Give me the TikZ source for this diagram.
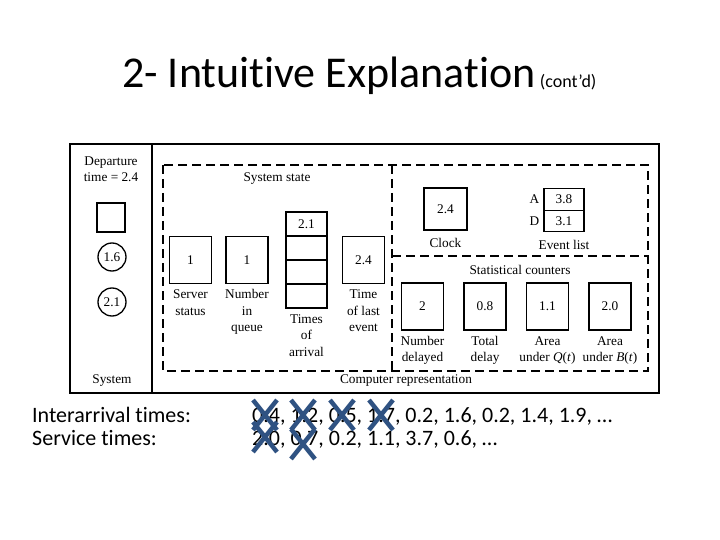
\documentclass[tikz,border=0pt]{standalone}
\usepackage{fontspec}
\setmainfont{Carlito}[Ligatures={TeX,CommonOff}]
\newfontfamily\figfont{Liberation Serif}
\usetikzlibrary{positioning}

\definecolor{crossblue}{RGB}{47,82,130}

\tikzset{
  fig/.style={font=\figfont\fontsize{13.3}{16.5}\selectfont},
  cell/.style={draw, line width=1.3pt, minimum width=42pt, minimum height=47pt, inner sep=0pt, fig},
  lab/.style={fig, align=center, inner sep=0pt},
  region/.style={dash pattern=on 9pt off 5pt, line width=1.1pt},
  crossout/.style={crossblue, line width=4.5pt},
  slide/.style={anchor=base west, inner sep=0pt, font=\fontsize{22}{24}\selectfont}
}

\begin{document}
\begin{tikzpicture}[x=1pt,y=-1pt]
  \useasboundingbox (0,0) rectangle (720,540);

  % title
  \node[anchor=base west, inner sep=0pt, font=\fontsize{44}{50}\selectfont] (title) at (122,88) {2- Intuitive Explanation};
  \node[anchor=base west, inner sep=0pt, font=\fontsize{18}{20}\selectfont] (contd) at ([xshift=4pt]title.base east) {(cont'd)};

  % frame
  \draw[line width=1.8pt] (70,144) rectangle (659,393);
  \draw[line width=1.3pt] (152,144) -- (152,393);

  % system
  \node[lab] (dep) at (111,169) {Departure\\time = 2.4};
  \node[draw, line width=1.3pt, minimum width=28pt, minimum height=29pt] (server) at (111,217.5) {};
  \node[draw, circle, line width=1.3pt, minimum size=28pt, inner sep=0pt, fig] (cust1) at (112,257) {1.6};
  \node[draw, circle, line width=1.3pt, minimum size=28pt, inner sep=0pt, fig] (cust2) at (112,302) {2.1};
  \node[lab] (sys) at (112,381) {System};

  % computer representation
  \draw[region] (163,165) rectangle (648,371);
  \draw[region] (392,165) -- (392,371);
  \draw[region] (392,256) -- (648,256);

  % system state
  \node[lab] (sysstate) at (277,179) {System state};
  \node[cell] (status) at (190.5,260) {1};
  \node[lab, below=3pt of status] (statuslab) {\strut Server\\status};
  \node[cell] (queue) at (247,260) {1};
  \node[lab, below=3pt of queue] (queuelab) {\strut Number\\in\\queue};
  \foreach \i/\v in {0/2.1,1/,2/,3/}
    \node[cell, minimum width=41pt, minimum height=24pt] (arr\i) at (306.5,{224+24*\i}) {\v};
  \node[lab, below=3pt of arr3] (arrlab) {\strut Times\\of\\arrival};
  \node[cell] (lastev) at (363.5,260) {2.4};
  \node[lab, below=3pt of lastev] (lastevlab) {\strut Time\\of last\\event};

  % clock and event list
  \node[cell, minimum width=43pt, minimum height=42pt] (clock) at (445.5,209) {2.4};
  \node[lab, below=5pt of clock] (clocklab) {\strut Clock};
  \node[cell, minimum width=40pt, minimum height=21.5pt] (evA) at (564,199.5) {3.8};
  \node[cell, minimum width=40pt, minimum height=21.5pt] (evD) at (564,221) {3.1};
  \node[lab, left=4pt of evA] (evAlab) {A};
  \node[lab, left=4pt of evD] (evDlab) {D};
  \node[lab, below=5pt of evD] (evlab) {\strut Event list};

  % statistical counters
  \node[lab] (statlab) at (520,270) {Statistical counters};
  \node[cell] (ndel) at (422.5,306.5) {2};
  \node[lab, below=3pt of ndel] (ndellab) {\strut Number\\delayed};
  \node[cell] (tdel) at (485,306.5) {0.8};
  \node[lab, below=3pt of tdel] (tdellab) {\strut Total\\delay};
  \node[cell] (areaq) at (547.5,306.5) {1.1};
  \node[lab, below=3pt of areaq] (areaqlab) {\strut Area\\under \textit{Q}(\textit{t})};
  \node[cell] (areab) at (610,306.5) {2.0};
  \node[lab, below=3pt of areab] (areablab) {\strut Area\\under \textit{B}(\textit{t})};

  \node[lab] (comprep) at (406,381) {Computer representation};

  % input times
  \node[slide] (iatlab) at (32,422) {Interarrival times:};
  \node[slide] (svclab) at (32,445) {Service times:};
  \node[slide] (iatval) at (252,422) {0.4, 1.2, 0.5, 1.7, 0.2, 1.6, 0.2, 1.4, 1.9, …};
  \node[slide] (svcval) at (252,445) {2.0, 0.7, 0.2, 1.1, 3.7, 0.6, …};

  % used values crossed out
  \foreach \cx/\cy in {265/415, 303/415, 342/415, 381/415, 265/437, 303/444}
    \draw[crossout] (\cx-12,\cy-15) -- (\cx+12,\cy+15) (\cx-12,\cy+15) -- (\cx+12,\cy-15);
\end{tikzpicture}
\end{document}
